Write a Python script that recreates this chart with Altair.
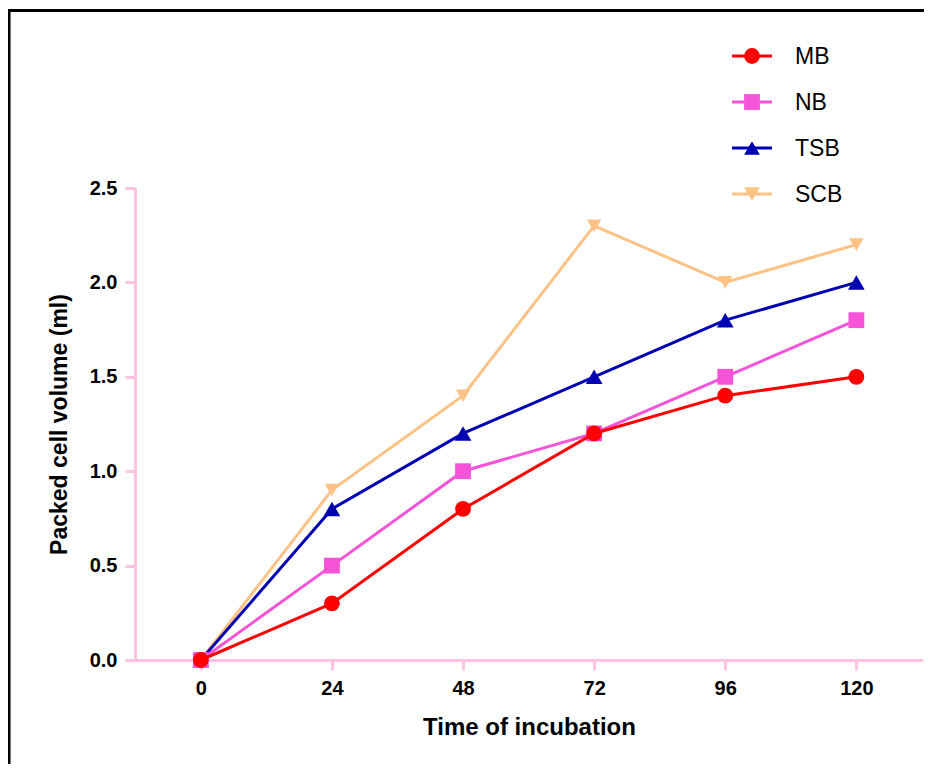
import altair as alt
import pandas as pd

# ---- data ----
time_h = [0, 24, 48, 72, 96, 120]
series_names = ["MB", "NB", "TSB", "SCB"]
mb_values = [0.0, 0.3, 0.8, 1.2, 1.4, 1.5]
nb_values = [0.0, 0.5, 1.0, 1.2, 1.5, 1.8]
tsb_values = [0.0, 0.8, 1.2, 1.5, 1.8, 2.0]
scb_values = [0.0, 0.9, 1.4, 2.3, 2.0, 2.2]
x_ticks = [0, 24, 48, 72, 96, 120]
y_ticks = [0.0, 0.5, 1.0, 1.5, 2.0, 2.5]

# ---- styles ----
series_colors = ["#FF0000", "#F553D8", "#0000B3", "#FFC285"]
series_shapes = ["circle", "square", "triangle-up", "triangle-down"]
series_sizes = [250, 250, 280, 210]
PINK = "#FFC2E2"
FONT = "Liberation Sans"

values_by_series = {
    "MB": mb_values,
    "NB": nb_values,
    "TSB": tsb_values,
    "SCB": scb_values,
}

color_scale = alt.Scale(domain=series_names, range=series_colors)
shape_scale = alt.Scale(domain=series_names, range=series_shapes)
size_scale = alt.Scale(domain=series_names, range=series_sizes)

x_enc = alt.X(
    "time:Q",
    scale=alt.Scale(domain=[-12.05, 132.2], nice=False, zero=False),
    axis=alt.Axis(
        values=x_ticks,
        title="Time of incubation",
        grid=False,
        domainColor=PINK,
        domainWidth=3,
        tickColor=PINK,
        tickWidth=3,
        tickSize=10,
        labelFont=FONT,
        labelFontSize=20,
        labelFontWeight="bold",
        labelColor="black",
        labelPadding=8,
        titleFont=FONT,
        titleFontSize=24,
        titleFontWeight="bold",
        titleColor="black",
        titlePadding=17,
    ),
)
y_enc = alt.Y(
    "value:Q",
    scale=alt.Scale(domain=[0, 2.5], nice=False),
    axis=alt.Axis(
        values=y_ticks,
        format=".1f",
        title="Packed cell volume (ml)",
        grid=False,
        domainColor=PINK,
        domainWidth=3,
        tickColor=PINK,
        tickWidth=3,
        tickSize=10,
        labelFont=FONT,
        labelFontSize=20,
        labelFontWeight="bold",
        labelColor="black",
        labelPadding=8,
        titleFont=FONT,
        titleFontSize=23,
        titleFontWeight="bold",
        titleColor="black",
        titlePadding=18,
    ),
)

# draw SCB first, MB last (MB on top)
series_layers = []
for name in reversed(series_names):
    df = pd.DataFrame({"time": time_h, "value": values_by_series[name], "series": name})
    idx = series_names.index(name)
    base = alt.Chart(df)
    line = base.mark_line(strokeWidth=3).encode(
        x=x_enc,
        y=y_enc,
        color=alt.Color("series:N", scale=color_scale, legend=None),
    )
    pts = base.mark_point(filled=True, opacity=1, size=series_sizes[idx]).encode(
        x=x_enc,
        y=y_enc,
        color=alt.Color("series:N", scale=color_scale, legend=None),
        shape=alt.Shape("series:N", scale=shape_scale, legend=None),
    )
    series_layers += [line, pts]

main = alt.layer(*series_layers)

# ---- hand-made legend (line through marker) ----
leg_df = pd.DataFrame({"series": series_names, "row": list(range(len(series_names)))})
leg_y = alt.Y(
    "row:Q",
    scale=alt.Scale(domain=[0, len(series_names) - 1], range=[-132, 6], nice=False, zero=False),
    axis=None,
)
leg_base = alt.Chart(leg_df)
leg_rule = leg_base.mark_rule(strokeWidth=3).encode(
    x=alt.value(597),
    x2=alt.value(637),
    y=leg_y,
    color=alt.Color("series:N", scale=color_scale, legend=None),
)
leg_pts = leg_base.mark_point(filled=True, opacity=1).encode(
    x=alt.value(617),
    y=leg_y,
    color=alt.Color("series:N", scale=color_scale, legend=None),
    shape=alt.Shape("series:N", scale=shape_scale, legend=None),
    size=alt.Size("series:N", scale=size_scale, legend=None),
)
leg_text = leg_base.mark_text(
    align="left", baseline="middle", fontSize=23, font=FONT, color="black", dy=1
).encode(x=alt.value(660), y=leg_y, text="series:N")
legend = alt.layer(leg_rule, leg_pts, leg_text)

# ---- outer frame (top and left edges visible in the reference) ----
frame_df = pd.DataFrame({"k": [0]})
frame_top = alt.Chart(frame_df).mark_rect(color="black").encode(
    x=alt.value(-127), x2=alt.value(789), y=alt.value(-179), y2=alt.value(-176)
)
frame_left = alt.Chart(frame_df).mark_rect(color="black").encode(
    x=alt.value(-127), x2=alt.value(-124.5), y=alt.value(-179), y2=alt.value(580)
)

chart = (
    alt.layer(frame_top, frame_left, main, legend)
    .resolve_scale(y="independent")
    .properties(
        width=788,
        height=472,
        autosize=alt.AutoSizeParams(type="none"),
        padding={"left": 127, "top": 180, "right": 1, "bottom": 104},
        background="white",
    )
    .configure_view(stroke=None)
)

chart.save("out.html", embed_options={"renderer": "svg", "actions": False})
